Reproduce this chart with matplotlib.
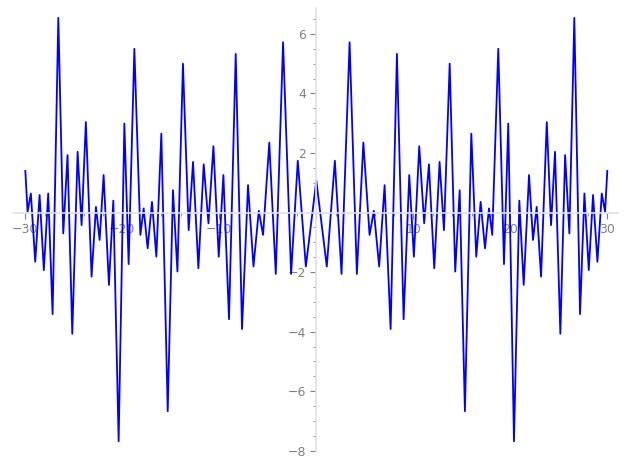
import matplotlib
matplotlib.use("Agg")
import matplotlib.pyplot as plt
from matplotlib.ticker import AutoMinorLocator, FuncFormatter, MultipleLocator

# local extrema of the curve (left half, x from -30 to 0)
x_left = [-30.0, -29.77, -29.43, -28.98, -28.53, -28.09, -27.64, -27.19, -26.6, -26.09,
          -25.65, -25.16, -24.61, -24.2, -23.76, -23.17, -22.72, -22.34, -21.93, -21.38,
          -20.93, -20.38, -19.79, -19.35, -18.76, -18.14, -17.8, -17.39, -16.94, -16.49,
          -15.98, -15.32, -14.78, -14.32, -13.75, -13.16, -12.71, -12.16, -11.61, -11.12,
          -10.61, -10.06, -9.58, -9.0, -8.31, -7.66, -7.04, -6.48, -5.93, -5.49,
          -4.85, -4.18, -3.43, -2.6, -1.91, -1.08, 0.0]
y_left = [1.4, 0.03, 0.64, -1.65, 0.59, -1.93, 0.64, -3.41, 6.54, -0.7,
          1.93, -4.07, 2.04, -0.42, 3.04, -2.15, 0.19, -0.92, 1.26, -2.43,
          0.4, -7.68, 2.99, -1.73, 5.5, -0.75, 0.14, -1.2, 0.36, -1.48,
          2.65, -6.67, 0.75, -1.98, 5.0, -0.59, 1.7, -1.87, 1.62, -0.36,
          2.23, -1.48, 1.26, -3.58, 5.33, -3.91, 0.92, -1.81, 0.06, -0.75,
          2.35, -2.06, 5.72, -2.06, 1.74, -1.81, 1.07]

# the curve is even: right half is the mirror image
x_vals = x_left + [-v for v in x_left[-2::-1]]
y_vals = y_left + y_left[-2::-1]

grey = '#808080'

fig = plt.figure(figsize=(6.27, 4.69), dpi=100)
ax = fig.add_axes([0.0203, 0.0369, 0.9653, 0.946])

ax.plot(x_vals, y_vals, color='#0000ff', lw=1.3, solid_joinstyle='round')
ax.set_xlim(-31.3, 31.1)
ax.set_ylim(-8.03, 6.87)

''' spines through the origin '''
ax.spines['left'].set_position('zero')
ax.spines['bottom'].set_position('zero')
ax.spines['right'].set_visible(False)
ax.spines['top'].set_visible(False)
for s in ['left', 'bottom']:
    ax.spines[s].set_color('#e2e2e2')
    ax.spines[s].set_linewidth(1.2)

ax.xaxis.set_major_locator(MultipleLocator(10))
ax.yaxis.set_major_locator(MultipleLocator(2))
ax.xaxis.set_minor_locator(AutoMinorLocator(5))
ax.yaxis.set_minor_locator(AutoMinorLocator(4))

nozero = FuncFormatter(lambda v, p: '' if abs(v) < 1e-9 else '{:g}'.format(v).replace('-', '\u2212'))
ax.xaxis.set_major_formatter(nozero)
ax.yaxis.set_major_formatter(nozero)

ax.tick_params(which='major', length=4, color=grey, labelcolor=grey, labelsize=9)
ax.tick_params(which='minor', length=2.5, color=grey)

fig.savefig('out.png', dpi=100)
